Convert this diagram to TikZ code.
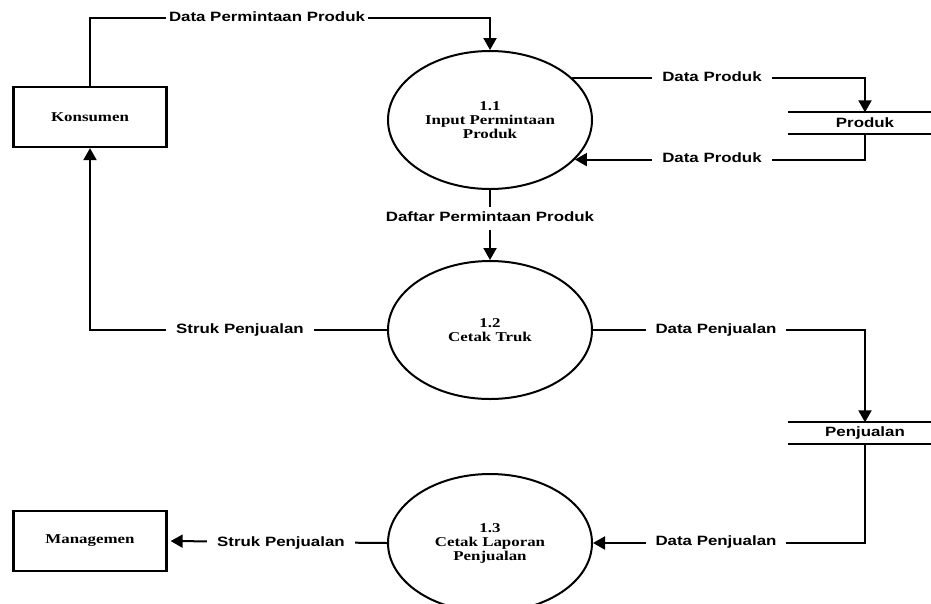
\documentclass[tikz,border=0pt]{standalone}
\usepackage{fontspec}
\setmainfont{Liberation Serif}[FakeStretch=1.25]
\setsansfont{Liberation Sans}[FakeStretch=1.25]
\usetikzlibrary{shapes.geometric,arrows.meta}

\begin{document}
\begin{tikzpicture}[x=1pt,y=-1pt,
  proc/.style={draw,ellipse,line width=2pt,minimum width=204pt,minimum height=138pt,inner sep=0pt,align=center,font=\fontsize{13.5}{14}\selectfont\bfseries},
  ent/.style={draw,rectangle,line width=2.3pt,minimum width=153pt,minimum height=60pt,font=\fontsize{13.5}{14}\selectfont\bfseries},
  store/.style={minimum width=154pt,minimum height=21pt,inner sep=0pt,font=\sffamily\fontsize{13.5}{14}\selectfont\bfseries},
  flow/.style={line width=2pt,-{Triangle[length=12pt,width=13pt]}},
  lbl/.style={fill=white,inner xsep=10pt,inner ysep=2pt,text height=10pt,text depth=3pt,font=\sffamily\fontsize{13.5}{14}\selectfont\bfseries}]
\useasboundingbox (0,0) rectangle (931,603);

\node[ent] (konsumen) at (90,117) {Konsumen};
\node[ent] (managemen) at (90,541) {Managemen};

\node[proc] (p11) at (490,120) {1.1\\Input Permintaan\\Produk};
\node[proc] (p12) at (490,330) {1.2\\Cetak Truk};
\node[proc] (p13) at (490,543) {1.3\\Cetak Laporan\\Penjualan};

\node[store] (produk) at (865,123) {Produk};
\node[store] (penjualan) at (865,433) {Penjualan};
\foreach \s in {produk,penjualan}
  \draw[line width=2pt] (\s.north west) -- (\s.north east) (\s.south west) -- (\s.south east);

\coordinate (top) at (0,18);
\draw[flow] (konsumen.north) -- (konsumen.north |- top) -| (p11.north);
\draw[flow] (p11.27) -| (produk.north);
\draw[flow] (produk.south) |- (p11.-25);
\draw[flow] (p11.south) -- (p12.north);
\draw[flow] (p12.west) -| (konsumen.south);
\draw[flow] (p12.east) -| (penjualan.north);
\draw[flow] (penjualan.south) |- (p13.east);
\draw[flow,shorten >=3pt] (p13.west) -- (managemen.east);

\node[lbl,inner xsep=3pt] (dpp) at (267,18) {Data Permintaan Produk};
\node[lbl] (dp1) at (712,78) {Data Produk};
\node[lbl] (dp2) at (712,159) {Data Produk};
\node[lbl,inner ysep=5pt] (daftar) at (490,218) {Daftar Permintaan Produk};
\node[lbl] (sp1) at (240,330) {Struk Penjualan};
\node[lbl] (dj1) at (716,330) {Data Penjualan};
\node[lbl] (dj2) at (716,542) {Data Penjualan};
\node[lbl] (sp2) at (281,543) {Struk Penjualan};

\end{tikzpicture}
\end{document}
